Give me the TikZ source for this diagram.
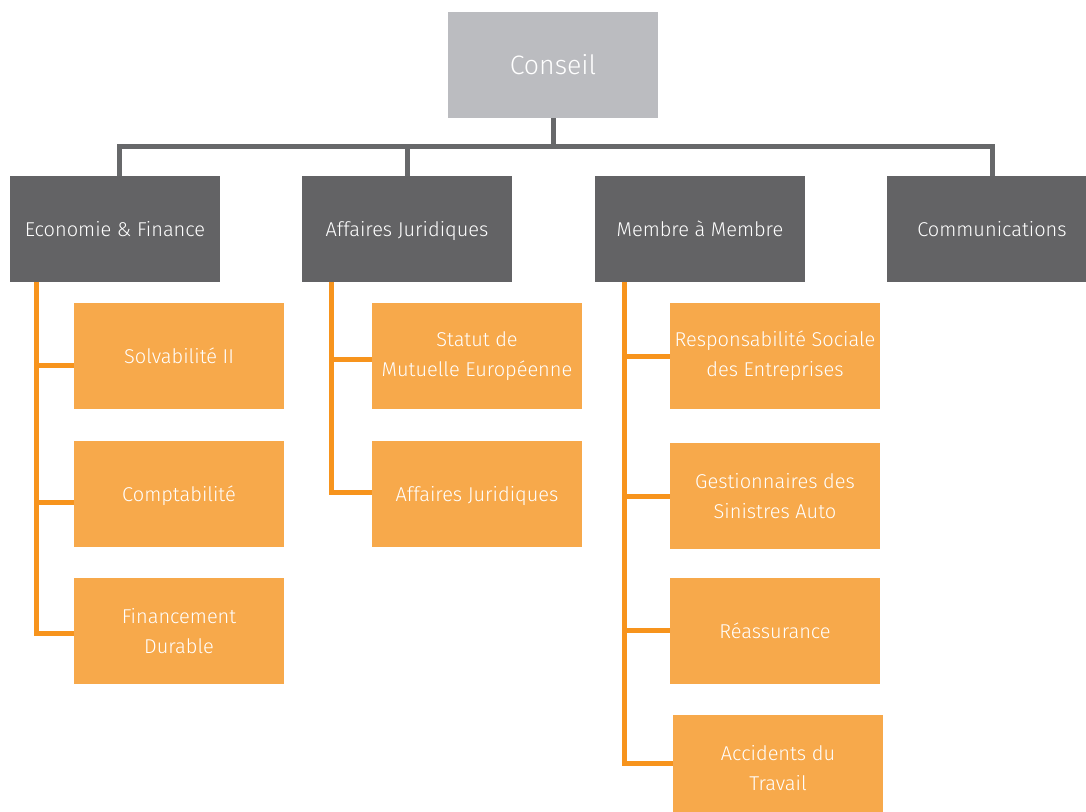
\documentclass[tikz,border=0pt]{standalone}
\usepackage{fontspec}
\setmainfont{Fira Sans}[UprightFont={* Light}]
\usetikzlibrary{calc}
\definecolor{boxgray}{HTML}{636365}
\definecolor{linegray}{HTML}{67686A}
\definecolor{topgray}{HTML}{BBBCC0}
\definecolor{boxorange}{HTML}{F7A94B}
\definecolor{lineorange}{HTML}{F7941D}
\tikzset{
  base/.style={rectangle, inner sep=0pt, minimum width=157.5pt, minimum height=79.5pt,
    text=white, align=center, font=\fontsize{15}{22.5}\selectfont},
  single/.style={text height=11pt, text depth=0pt},
  topbox/.style={base, fill=topgray, font=\fontsize{20}{24}\selectfont},
  deptbox/.style={base, single, fill=boxgray},
  subbox/.style={base, fill=boxorange},
  gline/.style={draw=linegray, line width=3.75pt},
  oline/.style={draw=lineorange, line width=3.75pt}
}
\begin{document}
\begin{tikzpicture}[x=0.75pt, y=-0.75pt]
\useasboundingbox (0,0) rectangle (1086,812);
\clip (0,0) rectangle (1086,812);
% nodes
\node[topbox] (conseil) at (553,65) {Conseil};
\node[deptbox] (eco) at (115,229) {Economie \& Finance};
\node[deptbox] (aff) at (407,229) {Affaires Juridiques};
\node[deptbox] (mem) at (700,229) {Membre à Membre};
\node[deptbox] (comm) at (992,229) {Communications};
\node[subbox, single] (e1) at (179,356) {Solvabilité II};
\node[subbox, single] (e2) at (179,494) {Comptabilité};
\node[subbox] (e3) at (179,631) {Financement\\Durable};
\node[subbox] (a1) at (477,356) {Statut de\\Mutuelle Européenne};
\node[subbox, single] (a2) at (477,494) {Affaires Juridiques};
\node[subbox] (m1) at (775,356) {Responsabilité Sociale\\des Entreprises};
\node[subbox] (m2) at (775,496) {Gestionnaires des\\Sinistres Auto};
\node[subbox, single] (m3) at (775,631) {Réassurance};
\node[subbox] (m4) at (778,768) {Accidents du\\Travail};
% gray connectors
\coordinate (bus) at (553,147);
\draw[gline] (conseil.south) -- (bus);
\draw[gline] ($(eco.north)+(4,0)$) |- (bus) -| (comm.north);
\draw[gline] (aff.north) -- (aff.north |- bus);
\draw[gline] ($(mem.north)+(-8,0)$) -- ($(mem.north)+(-8,0)$ |- bus);
% orange connectors: Economie
\draw[oline] ($(eco.south west)+(27,0)$) |- ($(e3.west)+(0,3)$);
\draw[oline] ($(e1.west)+(0,10)$) -- ++(-37,0);
\draw[oline] ($(e2.west)+(0,9)$) -- ++(-37,0);
% Affaires
\draw[oline] ($(aff.south west)+(30,0)$) |- ($(a2.west)+(0,-1)$);
\draw[oline] ($(a1.west)+(0,4)$) -- ++(-40,0);
% Membre
\draw[oline] ($(mem.south west)+(30,0)$) |- ($(m4.west)+(0,-5)$);
\draw[oline] ($(m1.west)+(0,1)$) -- ++(-45,0);
\draw[oline] ($(m2.west)+(0,1)$) -- ++(-45,0);
\draw[oline] (m3.west) -- ++(-45,0);
\end{tikzpicture}
\end{document}
